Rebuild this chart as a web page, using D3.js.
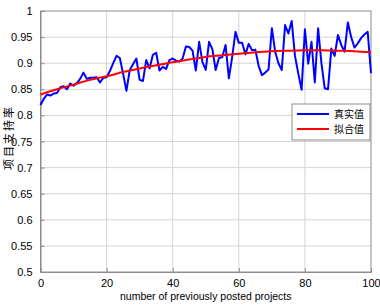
<!DOCTYPE html>
<html lang="en">
<head>
    <meta charset="UTF-8">
    <title>项目支持率</title>
    <script src="https://d3js.org/d3.v7.min.js"></script>
    <style>
        body { margin: 0; background: #fff; }
        text { font-family: "Liberation Sans", Arial, sans-serif; }
    </style>
</head>
<body>
    <svg id="chart" width="380" height="305"></svg>
    <script>
        // observed values, x = 0..100
        const actual = [
            0.820, 0.832, 0.840, 0.838, 0.842, 0.843, 0.854, 0.856, 0.850, 0.861,
            0.857, 0.862, 0.870, 0.882, 0.870, 0.872, 0.872, 0.873, 0.863, 0.872,
            0.873, 0.885, 0.900, 0.914, 0.910, 0.880, 0.847, 0.887, 0.898, 0.909,
            0.868, 0.866, 0.906, 0.890, 0.916, 0.920, 0.886, 0.893, 0.889, 0.906,
            0.909, 0.905, 0.903, 0.909, 0.932, 0.931, 0.924, 0.886, 0.941, 0.902,
            0.887, 0.941, 0.927, 0.887, 0.910, 0.912, 0.935, 0.871, 0.912, 0.960,
            0.939, 0.939, 0.917, 0.937, 0.925, 0.926, 0.895, 0.877, 0.882, 0.888,
            0.967, 0.922, 0.900, 0.887, 0.973, 0.957, 0.981, 0.914, 0.880, 0.849,
            0.965, 0.899, 0.941, 0.863, 0.967, 0.900, 0.852, 0.850, 0.928, 0.914,
            0.954, 0.935, 0.922, 0.978, 0.950, 0.930, 0.938, 0.948, 0.955, 0.960,
            0.881
        ];
        // fitted curve, read every 5 projects
        const fitX = [0, 5, 10, 15, 20, 25, 30, 35, 40, 45, 50, 55, 60, 65, 70, 75, 80, 85, 90, 95, 100];
        const fitY = [0.840, 0.850, 0.859, 0.868, 0.875, 0.883, 0.890, 0.896, 0.902, 0.907,
                      0.912, 0.915, 0.918, 0.921, 0.923, 0.924, 0.925, 0.925, 0.924, 0.923, 0.921];
        const xTicks = [0, 20, 40, 60, 80, 100];
        const yTicks = [0.5, 0.55, 0.6, 0.65, 0.7, 0.75, 0.8, 0.85, 0.9, 0.95, 1];
        const legendLabels = ["真实值", "拟合值"];
        const colors = ["#0000ff", "#ff0000"];

        const svg = d3.select("#chart");
        const margin = {top: 11, right: 9, bottom: 33, left: 40.5};
        const width = 380 - margin.left - margin.right;
        const height = 305 - margin.top - margin.bottom;

        const x = d3.scaleLinear().domain([0, 100]).range([0, width]);
        const y = d3.scaleLinear().domain([0.5, 1]).range([height, 0]);

        const g = svg.append("g")
            .attr("transform", `translate(${margin.left},${margin.top})`);

        // grid
        g.selectAll("line.gx").data(xTicks.slice(1, -1)).enter().append("line")
            .attr("x1", d => x(d)).attr("x2", d => x(d))
            .attr("y1", 0).attr("y2", height)
            .attr("stroke", "#d4d4d4").attr("stroke-width", 1);
        g.selectAll("line.gy").data(yTicks.slice(1, -1)).enter().append("line")
            .attr("x1", 0).attr("x2", width)
            .attr("y1", d => y(d)).attr("y2", d => y(d))
            .attr("stroke", "#d4d4d4").attr("stroke-width", 1);

        // axes, ticks inside
        const xAxis = g.append("g")
            .attr("transform", `translate(0,${height})`)
            .call(d3.axisBottom(x).tickValues(xTicks).tickSize(-4).tickPadding(7).tickFormat(d3.format("d")));
        const yAxis = g.append("g")
            .call(d3.axisLeft(y).tickValues(yTicks).tickSize(-4).tickPadding(8).tickFormat(d => d3.format("~g")(d)));
        [xAxis, yAxis].forEach(a => {
            a.select(".domain").attr("stroke", "#8c8c8c");
            a.selectAll(".tick line").attr("stroke", "#8c8c8c");
            a.selectAll(".tick text").attr("fill", "#000").style("font-size", "11px");
        });
        g.append("rect")
            .attr("width", width).attr("height", height)
            .attr("fill", "none").attr("stroke", "#8c8c8c");

        // lines
        const line = d3.line().x(d => x(d[0])).y(d => y(d[1]));
        g.append("path")
            .datum(actual.map((v, i) => [i, v]))
            .attr("fill", "none").attr("stroke", colors[0]).attr("stroke-width", 2)
            .attr("stroke-linejoin", "round")
            .attr("d", line);
        g.append("path")
            .datum(fitX.map((v, i) => [v, fitY[i]]))
            .attr("fill", "none").attr("stroke", colors[1]).attr("stroke-width", 2)
            .attr("d", line.curve(d3.curveMonotoneX));

        // legend
        const lg = svg.append("g").attr("transform", "translate(292,104)");
        lg.append("rect")
            .attr("width", 78).attr("height", 36)
            .attr("fill", "#fff").attr("stroke", "#8c8c8c");
        legendLabels.forEach((t, i) => {
            lg.append("line")
                .attr("x1", 5).attr("x2", 37)
                .attr("y1", 10 + i * 15).attr("y2", 10 + i * 15)
                .attr("stroke", colors[i]).attr("stroke-width", 2);
            lg.append("text")
                .attr("x", 42).attr("y", 14 + i * 15)
                .style("font-family", "'Noto Sans CJK SC'")
                .style("font-size", "10px")
                .text(t);
        });

        // labels
        svg.append("text")
            .attr("x", margin.left + width / 2).attr("y", 300)
            .attr("text-anchor", "middle")
            .style("font-size", "10.5px")
            .text("number of previously posted projects");
        svg.append("text")
            .attr("transform", `translate(8,${margin.top + height / 2 - 4}) rotate(-90)`)
            .attr("text-anchor", "middle")
            .attr("dominant-baseline", "central")
            .style("font-family", "'Noto Sans CJK SC'")
            .style("font-size", "11px")
            .style("letter-spacing", "2px")
            .text("项目支持率");
    </script>
</body>
</html>
